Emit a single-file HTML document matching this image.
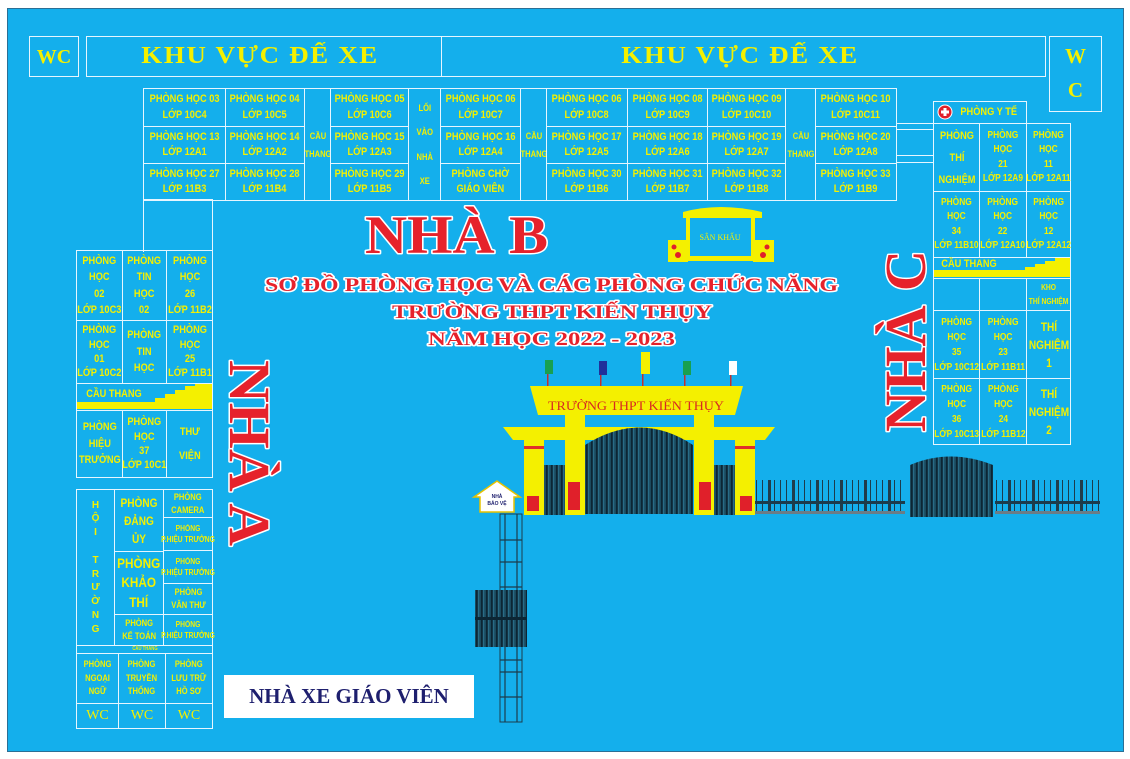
<!DOCTYPE html><html><head><meta charset="utf-8"><style>
body{margin:0;width:1130px;height:759px;background:#fff;position:relative;overflow:hidden;font-family:"Liberation Sans",sans-serif}
#bg{position:absolute;left:7px;top:8px;width:1117px;height:744px;background:#14afec;border:1px solid #2b6f95;box-sizing:border-box}
.c{position:absolute;box-sizing:border-box;border:1.5px solid #e6f6ff;display:flex;align-items:center;justify-content:center;text-align:center;color:#f4f000;font-weight:bold;font-size:11px;line-height:1.4;font-family:"Liberation Sans",sans-serif;overflow:visible}
.c span{display:inline-block;transform:scaleX(.84);white-space:nowrap}
.s{font-family:"Liberation Serif",serif;font-weight:bold;color:#f4f000}
.b{border:none}
.k{font-size:24px;letter-spacing:1.5px;transform:scaleX(1.12)}
</style></head><body>
<div id="bg"></div>
<div class="c s" style="left:29px;top:36px;width:50px;height:41px;font-size:20px">WC</div>
<div class="c" style="left:86px;top:36px;width:356px;height:41px"></div>
<div class="c" style="left:441px;top:36px;width:605px;height:41px"></div>
<div class="c s b" style="left:100px;top:36px;width:320px;height:41px"><div class="k">KHU VỰC ĐỂ XE</div></div>
<div class="c s b" style="left:580px;top:36px;width:320px;height:41px"><div class="k">KHU VỰC ĐỂ XE</div></div>
<div class="c s" style="left:1049px;top:36px;width:53px;height:76px;font-size:21px;line-height:1.6">W<br>C</div>
<div class="c" style="left:143px;top:88px;width:83px;height:39px"><span>PHÒNG HỌC 03<br>LỚP 10C4</span></div>
<div class="c" style="left:225px;top:88px;width:80px;height:39px"><span>PHÒNG HỌC 04<br>LỚP 10C5</span></div>
<div class="c" style="left:143px;top:126px;width:83px;height:38px"><span>PHÒNG HỌC 13<br>LỚP 12A1</span></div>
<div class="c" style="left:225px;top:126px;width:80px;height:38px"><span>PHÒNG HỌC 14<br>LỚP 12A2</span></div>
<div class="c" style="left:143px;top:163px;width:83px;height:38px"><span>PHÒNG HỌC 27<br>LỚP 11B3</span></div>
<div class="c" style="left:225px;top:163px;width:80px;height:38px"><span>PHÒNG HỌC 28<br>LỚP 11B4</span></div>
<div class="c" style="left:304px;top:88px;width:27px;height:113px;font-size:9px;line-height:2"><span>CẦU<br>THANG</span></div>
<div class="c" style="left:330px;top:88px;width:79px;height:39px"><span>PHÒNG HỌC 05<br>LỚP 10C6</span></div>
<div class="c" style="left:330px;top:126px;width:79px;height:38px"><span>PHÒNG HỌC 15<br>LỚP 12A3</span></div>
<div class="c" style="left:330px;top:163px;width:79px;height:38px"><span>PHÒNG HỌC 29<br>LỚP 11B5</span></div>
<div class="c" style="left:408px;top:88px;width:33px;height:113px;font-size:9px;line-height:2.7"><span>LỐI<br>VÀO<br>NHÀ<br>XE</span></div>
<div class="c" style="left:440px;top:88px;width:81px;height:39px"><span>PHÒNG HỌC 06<br>LỚP 10C7</span></div>
<div class="c" style="left:440px;top:126px;width:81px;height:38px"><span>PHÒNG HỌC 16<br>LỚP 12A4</span></div>
<div class="c" style="left:440px;top:163px;width:81px;height:38px"><span>PHÒNG CHỜ<br>GIÁO VIÊN</span></div>
<div class="c" style="left:520px;top:88px;width:27px;height:113px;font-size:9px;line-height:2"><span>CẦU<br>THANG</span></div>
<div class="c" style="left:546px;top:88px;width:82px;height:39px"><span>PHÒNG HỌC 06<br>LỚP 10C8</span></div>
<div class="c" style="left:627px;top:88px;width:81px;height:39px"><span>PHÒNG HỌC 08<br>LỚP 10C9</span></div>
<div class="c" style="left:707px;top:88px;width:79px;height:39px"><span>PHÒNG HỌC 09<br>LỚP 10C10</span></div>
<div class="c" style="left:546px;top:126px;width:82px;height:38px"><span>PHÒNG HỌC 17<br>LỚP 12A5</span></div>
<div class="c" style="left:627px;top:126px;width:81px;height:38px"><span>PHÒNG HỌC 18<br>LỚP 12A6</span></div>
<div class="c" style="left:707px;top:126px;width:79px;height:38px"><span>PHÒNG HỌC 19<br>LỚP 12A7</span></div>
<div class="c" style="left:546px;top:163px;width:82px;height:38px"><span>PHÒNG HỌC 30<br>LỚP 11B6</span></div>
<div class="c" style="left:627px;top:163px;width:81px;height:38px"><span>PHÒNG HỌC 31<br>LỚP 11B7</span></div>
<div class="c" style="left:707px;top:163px;width:79px;height:38px"><span>PHÒNG HỌC 32<br>LỚP 11B8</span></div>
<div class="c" style="left:785px;top:88px;width:31px;height:113px;font-size:9px;line-height:2"><span>CẦU<br>THANG</span></div>
<div class="c" style="left:815px;top:88px;width:82px;height:39px"><span>PHÒNG HỌC 10<br>LỚP 10C11</span></div>
<div class="c" style="left:815px;top:126px;width:82px;height:38px"><span>PHÒNG HỌC 20<br>LỚP 12A8</span></div>
<div class="c" style="left:815px;top:163px;width:82px;height:38px"><span>PHÒNG HỌC 33<br>LỚP 11B9</span></div>
<div class="c" style="left:143px;top:199px;width:70px;height:53px;border-bottom:none"></div>
<div style="position:absolute;left:896px;top:123px;width:38px;height:5px;border-top:1.5px solid #e6f6ff;border-bottom:1.5px solid #e6f6ff"></div>
<div style="position:absolute;left:896px;top:155px;width:38px;height:6px;border-top:1.5px solid #e6f6ff;border-bottom:1.5px solid #e6f6ff"></div>
<div class="c" style="left:76px;top:250px;width:47px;height:71px;line-height:1.5"><span>PHÒNG<br>HỌC<br>02<br>LỚP 10C3</span></div>
<div class="c" style="left:122px;top:250px;width:45px;height:71px;line-height:1.5"><span>PHÒNG<br>TIN<br>HỌC<br>02</span></div>
<div class="c" style="left:166px;top:250px;width:47px;height:71px;line-height:1.5"><span>PHÒNG<br>HỌC<br>26<br>LỚP 11B2</span></div>
<div class="c" style="left:76px;top:320px;width:47px;height:64px;line-height:1.3"><span>PHÒNG<br>HỌC<br>01<br>LỚP 10C2</span></div>
<div class="c" style="left:122px;top:320px;width:45px;height:64px;line-height:1.5"><span>PHÒNG<br>TIN<br>HỌC</span></div>
<div class="c" style="left:166px;top:320px;width:47px;height:64px;line-height:1.3"><span>PHÒNG<br>HỌC<br>25<br>LỚP 11B1</span></div>
<div class="c" style="left:76px;top:383px;width:137px;height:28px;justify-content:flex-start;padding-left:4px;padding-bottom:4px"><span>CẦU THANG</span></div>
<div class="c" style="left:76px;top:410px;width:47px;height:68px;line-height:1.5"><span>PHÒNG<br>HIỆU<br>TRƯỞNG</span></div>
<div class="c" style="left:122px;top:410px;width:45px;height:68px;line-height:1.3"><span>PHÒNG<br>HỌC<br>37<br>LỚP 10C1</span></div>
<div class="c" style="left:166px;top:410px;width:47px;height:68px;line-height:2.2"><span>THƯ<br>VIỆN</span></div>
<div class="c" style="left:76px;top:489px;width:39px;height:157px;font-size:10px;line-height:1.38">H<br>Ộ<br>I<br><br>T<br>R<br>Ư<br>Ờ<br>N<br>G</div>
<div class="c" style="left:114px;top:489px;width:50px;height:63px;font-size:12px;line-height:1.5"><span>PHÒNG<br>ĐẢNG<br>ỦY</span></div>
<div class="c" style="left:114px;top:551px;width:50px;height:64px;font-size:14px;line-height:1.4"><span>PHÒNG<br>KHẢO<br>THÍ</span></div>
<div class="c" style="left:114px;top:614px;width:50px;height:32px;font-size:9px"><span>PHÒNG<br>KẾ TOÁN</span></div>
<div class="c" style="left:163px;top:489px;width:50px;height:29px;font-size:9px"><span>PHÒNG<br>CAMERA</span></div>
<div class="c" style="left:163px;top:517px;width:50px;height:34px;font-size:8px"><span>PHÒNG<br>P.HIỆU TRƯỞNG</span></div>
<div class="c" style="left:163px;top:550px;width:50px;height:34px;font-size:8px"><span>PHÒNG<br>P.HIỆU TRƯỞNG</span></div>
<div class="c" style="left:163px;top:583px;width:50px;height:32px;font-size:9px"><span>PHÒNG<br>VĂN THƯ</span></div>
<div class="c" style="left:163px;top:614px;width:50px;height:32px;font-size:8px"><span>PHÒNG<br>P.HIỆU TRƯỞNG</span></div>
<div class="c" style="left:76px;top:645px;width:137px;height:9px;font-size:5px"><span>CẦU THANG</span></div>
<div class="c" style="left:76px;top:653px;width:43px;height:51px;font-size:9px;line-height:1.5"><span>PHÒNG<br>NGOẠI<br>NGỮ</span></div>
<div class="c" style="left:118px;top:653px;width:48px;height:51px;font-size:9px;line-height:1.5"><span>PHÒNG<br>TRUYỀN<br>THỐNG</span></div>
<div class="c" style="left:165px;top:653px;width:48px;height:51px;font-size:9px;line-height:1.5"><span>PHÒNG<br>LƯU TRỮ<br>HỒ SƠ</span></div>
<div class="c s" style="left:76px;top:703px;width:43px;height:26px;font-size:14px;font-weight:normal">WC</div>
<div class="c s" style="left:118px;top:703px;width:48px;height:26px;font-size:14px;font-weight:normal">WC</div>
<div class="c s" style="left:165px;top:703px;width:48px;height:26px;font-size:14px;font-weight:normal">WC</div>
<div class="c" style="left:933px;top:101px;width:94px;height:23px;padding-left:18px"><span>PHÒNG Y TẾ</span></div>
<div class="c" style="left:933px;top:123px;width:47px;height:69px;font-size:11px;line-height:2"><span>PHÒNG<br>THÍ<br>NGHIỆM</span></div>
<div class="c" style="left:979px;top:123px;width:48px;height:69px;font-size:10px;line-height:1.45"><span>PHÒNG<br>HỌC<br>21<br>LỚP 12A9</span></div>
<div class="c" style="left:1026px;top:123px;width:45px;height:69px;font-size:10px;line-height:1.45"><span>PHÒNG<br>HỌC<br>11<br>LỚP 12A11</span></div>
<div class="c" style="left:933px;top:191px;width:47px;height:67px;font-size:10px;line-height:1.45"><span>PHÒNG<br>HỌC<br>34<br>LỚP 11B10</span></div>
<div class="c" style="left:979px;top:191px;width:48px;height:67px;font-size:10px;line-height:1.45"><span>PHÒNG<br>HỌC<br>22<br>LỚP 12A10</span></div>
<div class="c" style="left:1026px;top:191px;width:45px;height:67px;font-size:10px;line-height:1.45"><span>PHÒNG<br>HỌC<br>12<br>LỚP 12A12</span></div>
<div class="c" style="left:933px;top:257px;width:138px;height:22px;justify-content:flex-start;padding-left:2px;padding-bottom:6px"><span>CẦU THANG</span></div>
<div class="c" style="left:933px;top:278px;width:47px;height:33px"></div>
<div class="c" style="left:979px;top:278px;width:48px;height:33px"></div>
<div class="c" style="left:1026px;top:278px;width:45px;height:33px;font-size:8px;line-height:1.7"><span>KHO<br>THÍ NGHIỆM</span></div>
<div class="c" style="left:933px;top:310px;width:47px;height:69px;font-size:10px;line-height:1.5"><span>PHÒNG<br>HỌC<br>35<br>LỚP 10C12</span></div>
<div class="c" style="left:979px;top:310px;width:48px;height:69px;font-size:10px;line-height:1.5"><span>PHÒNG<br>HỌC<br>23<br>LỚP 11B11</span></div>
<div class="c" style="left:1026px;top:310px;width:45px;height:69px;font-size:12px;line-height:1.5"><span>THÍ<br>NGHIỆM<br>1</span></div>
<div class="c" style="left:933px;top:378px;width:47px;height:67px;font-size:10px;line-height:1.5"><span>PHÒNG<br>HỌC<br>36<br>LỚP 10C13</span></div>
<div class="c" style="left:979px;top:378px;width:48px;height:67px;font-size:10px;line-height:1.5"><span>PHÒNG<br>HỌC<br>24<br>LỚP 11B12</span></div>
<div class="c" style="left:1026px;top:378px;width:45px;height:67px;font-size:12px;line-height:1.5"><span>THÍ<br>NGHIỆM<br>2</span></div>
<div style="position:absolute;left:224px;top:675px;width:250px;height:43px;background:#fff;display:flex;align-items:center;justify-content:center;font:bold 21px 'Liberation Serif',serif;color:#1e1f6e">NHÀ XE GIÁO VIÊN</div>

<svg style="position:absolute;left:0;top:0" width="1130" height="759">
<defs>
<pattern id="bars" width="5" height="10" patternUnits="userSpaceOnUse"><rect width="5" height="10" fill="#1b4a5e"/><rect x="1" width="1.6" height="10" fill="#0c2634"/><rect x="3.2" width="1" height="10" fill="#2c7590"/></pattern>
<pattern id="fence" width="24" height="36" patternUnits="userSpaceOnUse"><rect x="0" width="3" height="36" fill="#213c4a"/><rect x="6" width="1" height="36" fill="#1c3c4c"/><rect x="12" width="1" height="36" fill="#1c3c4c"/><rect x="18" width="1" height="36" fill="#1c3c4c"/></pattern>
</defs>
<rect x="77" y="402" width="135" height="7" fill="#f4f000"/>
<path d="M155 402 L155 398 L165 398 L165 394 L175 394 L175 390 L185 390 L185 386 L195 386 L195 384 L212 384 L212 402Z" fill="#f4f000"/>
<rect x="934" y="270" width="136" height="7" fill="#f4f000"/>
<path d="M1025 270 L1025 267 L1035 267 L1035 264 L1045 264 L1045 261 L1055 261 L1055 258 L1070 258 L1070 270Z" fill="#f4f000"/>
<circle cx="945" cy="112" r="7" fill="#e0202a" stroke="#fff" stroke-width="1"/>
<rect x="941" y="110.5" width="8" height="3" fill="#fff"/><rect x="943.5" y="108" width="3" height="8" fill="#fff"/>
<g font-family="Liberation Serif,serif" font-weight="bold" fill="#e6222b" stroke="#fff" stroke-width="3" paint-order="stroke" stroke-linejoin="round">
<text x="365" y="253" font-size="54" textLength="183" lengthAdjust="spacingAndGlyphs">NHÀ B</text>
<text x="265" y="291" font-size="19" textLength="573" lengthAdjust="spacingAndGlyphs">SƠ ĐỒ PHÒNG HỌC VÀ CÁC PHÒNG CHỨC NĂNG</text>
<text x="392" y="318" font-size="19" textLength="320" lengthAdjust="spacingAndGlyphs">TRƯỜNG THPT KIẾN THỤY</text>
<text x="428" y="345" font-size="19" textLength="247" lengthAdjust="spacingAndGlyphs">NĂM HỌC 2022 - 2023</text>
<text transform="translate(230,360) rotate(90)" font-size="58" textLength="186" lengthAdjust="spacingAndGlyphs">NHÀ A</text>
<text transform="translate(925,432) rotate(-90)" font-size="58" textLength="182" lengthAdjust="spacingAndGlyphs">NHÀ C</text>
</g>
<path d="M683 212 Q720 202 762 212 L762 218 L683 218Z" fill="#f4f000"/>
<rect x="688" y="215" width="65" height="44" fill="none" stroke="#f4f000" stroke-width="4"/>
<rect x="686" y="256" width="69" height="5" fill="#f4f000"/>
<rect x="668" y="240" width="20" height="22" fill="#f4f000"/><rect x="753" y="240" width="21" height="22" fill="#f4f000"/>
<circle cx="674" cy="247" r="2.5" fill="#e0202a"/><circle cx="678" cy="255" r="3" fill="#e0202a"/>
<circle cx="767" cy="247" r="2.5" fill="#e0202a"/><circle cx="763" cy="255" r="3" fill="#e0202a"/>
<text x="720" y="240" font-family="Liberation Serif,serif" font-size="8" fill="#f4f000" text-anchor="middle">SÂN KHẤU</text>
<g><rect x="547" y="370" width="1.5" height="18" fill="#c03030"/><rect x="545" y="360" width="8" height="14" fill="#18a050"/>
<rect x="600" y="370" width="1.5" height="18" fill="#c03030"/><rect x="599" y="361" width="8" height="14" fill="#20309a"/>
<rect x="642" y="370" width="1.5" height="18" fill="#c03030"/><rect x="641" y="352" width="9" height="22" fill="#f4f000"/>
<rect x="684" y="370" width="1.5" height="18" fill="#c03030"/><rect x="683" y="361" width="8" height="14" fill="#18a050"/>
<rect x="730" y="370" width="1.5" height="18" fill="#c03030"/><rect x="729" y="361" width="8" height="14" fill="#fff"/></g>
<path d="M530 386 L743 386 L735 415 L538 415Z" fill="#f4f000"/>
<text x="636" y="410" font-family="Liberation Serif,serif" font-size="13" fill="#d82a20" text-anchor="middle" textLength="176" lengthAdjust="spacingAndGlyphs">TRƯỜNG THPT KIẾN THỤY</text>
<path d="M503 427 L775 427 L765 440 L513 440Z" fill="#f4f000"/>
<rect x="524" y="438" width="20" height="77" fill="#f4f000"/><rect x="735" y="438" width="20" height="77" fill="#f4f000"/>
<rect x="524" y="446" width="20" height="3" fill="#e0302a"/><rect x="735" y="446" width="20" height="3" fill="#e0302a"/>
<rect x="527" y="496" width="12" height="15" fill="#e0202a"/><rect x="740" y="496" width="12" height="15" fill="#e0202a"/>
<rect x="544" y="465" width="21" height="50" fill="url(#bars)"/><rect x="714" y="465" width="21" height="50" fill="url(#bars)"/>
<path d="M585 445 Q640 410 693 445 L693 514 L585 514Z" fill="url(#bars)"/>
<rect x="694" y="414" width="20" height="101" fill="#f4f000"/>
<rect x="565" y="414" width="20" height="101" fill="#f4f000"/>
<rect x="568" y="482" width="12" height="28" fill="#e0202a"/><rect x="699" y="482" width="12" height="28" fill="#e0202a"/>
<rect x="755" y="480" width="150" height="34" fill="url(#fence)"/>
<rect x="755" y="501" width="150" height="3" fill="#1c3c4c"/><rect x="755" y="511" width="150" height="3" fill="#6b7c86"/>
<rect x="995" y="480" width="105" height="34" fill="url(#fence)"/>
<rect x="995" y="501" width="105" height="3" fill="#1c3c4c"/><rect x="995" y="511" width="105" height="3" fill="#6b7c86"/>
<path d="M910 465 Q950 448 993 465 L993 517 L910 517Z" fill="url(#bars)"/>
<path d="M474 497 L497 481 L520 497 L514 497 L514 512 L480 512 L480 497Z" fill="#fff" stroke="#e6c200" stroke-width="1.5"/>
<text x="497" y="498" font-size="5" font-family="Liberation Sans" fill="#1e1f6e" text-anchor="middle" font-weight="bold">NHÀ</text>
<text x="497" y="505" font-size="5" font-family="Liberation Sans" fill="#1e1f6e" text-anchor="middle" font-weight="bold">BẢO VỆ</text>
<rect x="500" y="514" width="22" height="208" fill="none" stroke="#1c3c4c" stroke-width="1"/>
<g stroke="#1c3c4c" stroke-width="1.2"><line x1="505" y1="514" x2="505" y2="722"/><line x1="517" y1="514" x2="517" y2="722"/>
<line x1="500" y1="540" x2="522" y2="540"/><line x1="500" y1="562" x2="522" y2="562"/><line x1="500" y1="587" x2="522" y2="587"/><line x1="500" y1="660" x2="522" y2="660"/><line x1="500" y1="672" x2="522" y2="672"/><line x1="500" y1="697" x2="522" y2="697"/></g>
<rect x="475" y="590" width="52" height="57" fill="url(#bars)"/>
<rect x="475" y="617" width="52" height="3" fill="#0c2634"/>
</svg>
</body></html>
